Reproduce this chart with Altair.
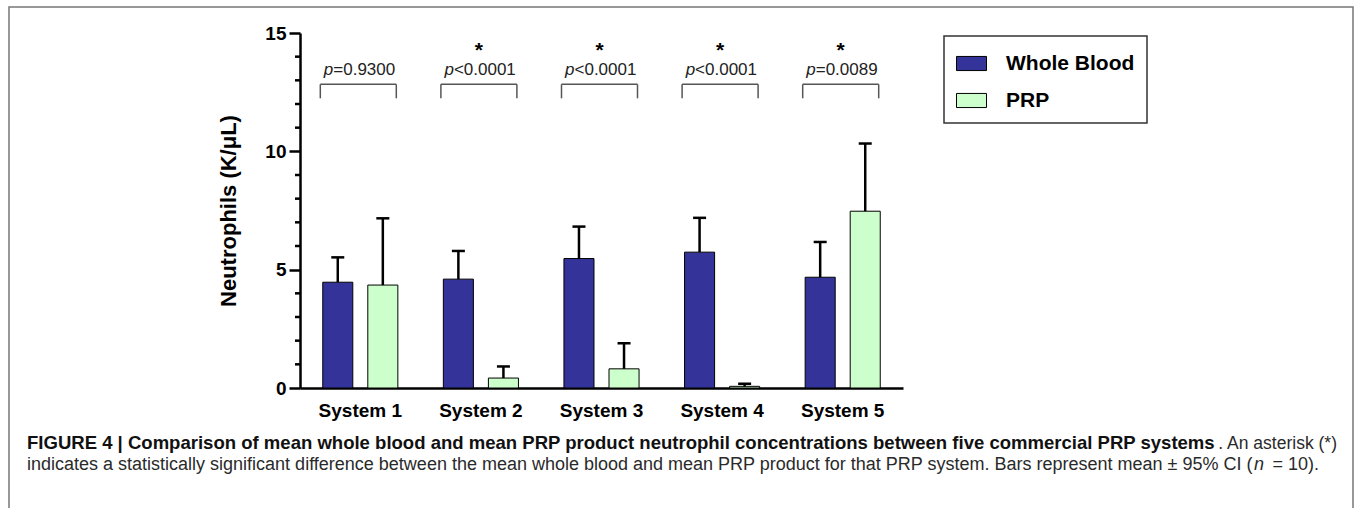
import altair as alt
import pandas as pd

# ---- data ----
systems = ["System 1", "System 2", "System 3", "System 4", "System 5"]
series = ["Whole Blood", "PRP"]
wb_mean = [4.47, 4.60, 5.47, 5.74, 4.68]
wb_upper = [5.52, 5.79, 6.82, 7.19, 6.17]
prp_mean = [4.35, 0.42, 0.81, 0.07, 7.47]
prp_upper = [7.17, 0.91, 1.89, 0.18, 10.33]
p_rest = ["=0.9300", "<0.0001", "<0.0001", "<0.0001", "=0.0089"]
stars = ["", "*", "*", "*", "*"]
major_ticks = [0, 5, 10, 15]
minor_ticks = [1, 2, 3, 4, 6, 7, 8, 9, 11, 12, 13, 14]

FONT = "Liberation Sans"
YTITLE = "Neutrophils (K/\u03bcL)"

rows = []
for i, s in enumerate(systems):
    rows.append({"system": s, "series": series[0], "mean": wb_mean[i], "upper": wb_upper[i]})
    rows.append({"system": s, "series": series[1], "mean": prp_mean[i], "upper": prp_upper[i]})
bars_df = pd.DataFrame(rows)
ann_df = pd.DataFrame({"system": systems, "rest": p_rest, "star": stars})
minor_df = pd.DataFrame({"v": minor_ticks})
one = pd.DataFrame({"a": [0]})

# annotation levels (data units)
BRACKET_Y = 12.83
LEG_Y = 12.24
PTEXT_Y = 13.21
STAR_Y = 13.97

xscale = alt.Scale(domain=systems, paddingInner=0, paddingOuter=0)
yscale = alt.Scale(domain=[0, 15], nice=False)

X = alt.X("system:N", scale=xscale, sort=systems, title=None,
          axis=alt.Axis(ticks=False, grid=False, labelAngle=0, labelFont=FONT, labelFontSize=19,
                        labelFontWeight="bold", labelColor="black", labelPadding=13,
                        domainColor="black", domainWidth=2.5))
Xs = alt.X("system:N", scale=xscale, sort=systems, title=None)
XO = alt.XOffset("series:N", sort=series,
                 scale=alt.Scale(domain=series, paddingInner=0.333, paddingOuter=0.505))

bars = alt.Chart(bars_df).mark_bar(stroke="black", strokeWidth=1).encode(
    x=X,
    xOffset=XO,
    y=alt.Y("mean:Q", scale=yscale, title=YTITLE,
            axis=alt.Axis(values=major_ticks, grid=False, tickSize=11, tickWidth=2.5,
                          tickColor="black", domainColor="black", domainWidth=2.5,
                          labelFont=FONT, labelFontSize=19, labelFontWeight="bold",
                          labelColor="black", labelPadding=3, titleFont=FONT,
                          titleFontSize=22, titleFontWeight="bold", titleColor="black",
                          titlePadding=24)),
    color=alt.Color("series:N", sort=series,
                    scale=alt.Scale(domain=series, range=["#333399", "#CCFFCC"]),
                    legend=alt.Legend(title=None, orient="none", legendX=644, legendY=3,
                                      fillColor="white", strokeColor="#333333", padding=12,
                                      rowPadding=11, labelOffset=19, labelFont=FONT,
                                      labelFontSize=21, labelFontWeight="bold",
                                      labelColor="black",
                                      symbolType="M-1,-0.47H1V0.47H-1Z", symbolSize=900,
                                      symbolStrokeColor="black", symbolStrokeWidth=1)),
)

whisk = alt.Chart(bars_df).mark_rule(color="black", strokeWidth=2.5).encode(
    x=Xs, xOffset=XO,
    y=alt.Y("mean:Q", scale=yscale, title=YTITLE), y2="upper:Q")

caps = alt.Chart(bars_df).mark_tick(color="black", thickness=2.5, size=13, opacity=1).encode(
    x=Xs, xOffset=XO,
    y=alt.Y("upper:Q", scale=yscale, title=YTITLE))

minor = alt.Chart(minor_df).mark_rule(color="black", strokeWidth=2.5).encode(
    x=alt.value(-5), x2=alt.value(0),
    y=alt.Y("v:Q", scale=yscale, title=YTITLE))

br_top = alt.Chart(ann_df).mark_tick(color="#555555", thickness=1.5, size=76, opacity=1, xOffset=-2).encode(
    x=Xs, y=alt.datum(BRACKET_Y))
br_l = alt.Chart(ann_df).mark_rule(color="#555555", strokeWidth=1.5, xOffset=-40).encode(
    x=Xs, y=alt.datum(BRACKET_Y), y2=alt.datum(LEG_Y))
br_r = alt.Chart(ann_df).mark_rule(color="#555555", strokeWidth=1.5, xOffset=36).encode(
    x=Xs, y=alt.datum(BRACKET_Y), y2=alt.datum(LEG_Y))

p_it = alt.Chart(ann_df).mark_text(text="p", font=FONT, fontSize=17, fontStyle="italic",
                                   align="right", baseline="alphabetic", dx=-27, color="#222222").encode(
    x=Xs, y=alt.datum(PTEXT_Y))
p_tx = alt.Chart(ann_df).mark_text(font=FONT, fontSize=17, align="left", baseline="alphabetic",
                                   dx=-27, color="#222222").encode(
    x=Xs, y=alt.datum(PTEXT_Y), text="rest:N")
star_tx = alt.Chart(ann_df).mark_text(font=FONT, fontSize=21, fontWeight="bold", align="center",
                                      baseline="alphabetic", dx=-2, color="black").encode(
    x=Xs, y=alt.datum(STAR_Y), text="star:N")

# caption and frame (decoration)
cap_bold = ("FIGURE 4 | Comparison of mean whole blood and mean PRP product neutrophil "
            "concentrations between five commercial PRP systems")
cap_reg1 = ". An asterisk (*)"
cap_reg2a = ("indicates a statistically significant difference between the mean whole blood "
             "and mean PRP product for that PRP system. Bars represent mean \u00b1 95% CI (")
cap_reg2b = "n"
cap_reg2c = "= 10)."

def txt(t, x, y, align="left", weight="normal", style="normal", size=17.5, color="#2a2a2a"):
    return alt.Chart(one).mark_text(text=t, font=FONT, fontSize=size, fontWeight=weight,
                                    fontStyle=style, align=align, baseline="alphabetic",
                                    color=color).encode(x=alt.value(x), y=alt.value(y))

c1 = txt(cap_bold, -273, 416, weight="bold", size=18.55, color="#111111")
c2 = txt(cap_reg1, 1037, 416, align="right")
c3 = txt(cap_reg2a, -273, 437, size=18)
c4 = txt(cap_reg2b, 954, 437, align="left", style="italic", size=18)
c5 = txt(cap_reg2c, 1019, 437, align="right", size=18)

frame = alt.Chart(one).mark_rect(fillOpacity=0, stroke="#777777", strokeWidth=1.5).encode(
    x=alt.value(-291), x2=alt.value(1053), y=alt.value(-26), y2=alt.value(490))

chart = alt.layer(frame, bars, whisk, caps, minor, br_top, br_l, br_r, p_it, p_tx, star_tx,
                  c1, c2, c3, c4, c5).properties(
    width=603, height=355,
    autosize=alt.AutoSizeParams(type="none"),
    padding={"left": 300, "top": 33, "right": 452, "bottom": 120},
    background="white",
).configure_view(stroke=None).configure_legend(strokeWidth=1.5).configure_axis(grid=False)

chart.save("out.html", embed_options={"renderer": "svg", "actions": False})
